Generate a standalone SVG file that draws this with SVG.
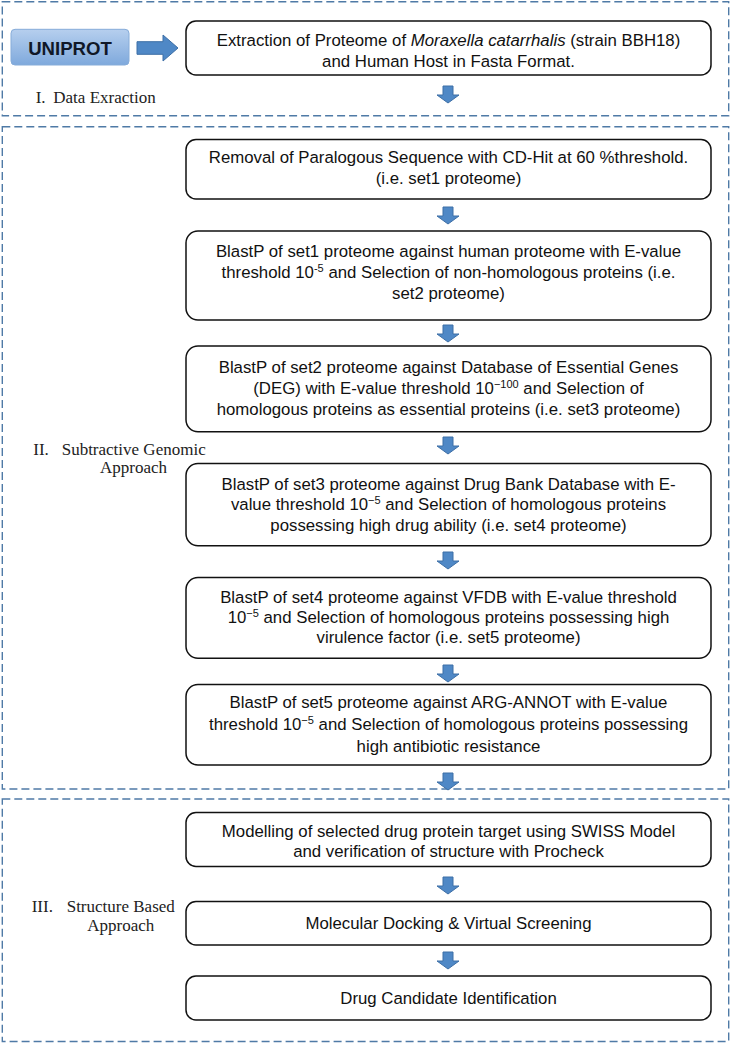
<svg xmlns="http://www.w3.org/2000/svg" width="731" height="1044" viewBox="0 0 731 1044">
<defs>
<style>
.sec{fill:none;stroke:#4f7aa6;stroke-width:1.4;stroke-dasharray:8 4}
.box{fill:#fff;stroke:#111;stroke-width:1.5}
.t{font-family:"Liberation Sans",Arial,sans-serif;font-size:16.8px;fill:#111;text-anchor:middle}
.lab{font-family:"Liberation Serif","Times New Roman",serif;font-size:17px;fill:#222}
.sup{font-size:11px}
.arr{fill:#4f88c6;stroke:#3d6fa6;stroke-width:1}
</style>
<linearGradient id="ug" x1="0" y1="0" x2="0" y2="1">
<stop offset="0" stop-color="#b6cfee"/>
<stop offset="1" stop-color="#7fa9dc"/>
</linearGradient>
</defs>
<rect width="731" height="1044" fill="#fff"/>
<g id="sections">
<rect class="sec" x="2.3" y="1.7" width="726.4" height="114"/>
<rect class="sec" x="2.3" y="126.7" width="726.4" height="662.3"/>
<rect class="sec" x="2.3" y="799" width="726.4" height="242.5"/>
</g>
<g id="labels">
<text class="lab" y="102.7"><tspan x="35.7">I.</tspan><tspan x="53.3">Data Exraction</tspan></text>
<text class="lab" y="455"><tspan x="33.3">II.</tspan><tspan x="61.7">Subtractive Genomic</tspan></text>
<text class="lab" x="100" y="473.3">Approach</text>
<text class="lab" y="911.7"><tspan x="31.7">III.</tspan><tspan x="66.7">Structure Based</tspan></text>
<text class="lab" x="87.3" y="930.7">Approach</text>
</g>
<g id="uniprot">
<rect x="11" y="29.3" width="118" height="35.7" rx="4" fill="url(#ug)" stroke="#86acd9" stroke-width="1"/>
<text x="70" y="55" font-family="'Liberation Sans',Arial,sans-serif" font-size="18.6" font-weight="bold" fill="#101828" text-anchor="middle">UNIPROT</text>
</g>
<g id="n0">
<rect class="box" x="186" y="21" width="525" height="54" rx="10"/>
<text class="t" x="448.5" y="45.7">Extraction of Proteome of <tspan font-style="italic">Moraxella catarrhalis</tspan> (strain BBH18)</text>
<text class="t" x="448.5" y="66.7">and Human Host in Fasta Format.</text>
</g>
<g id="n1">
<rect class="box" x="186" y="139.5" width="525" height="59.5" rx="10"/>
<text class="t" x="448.5" y="163.3">Removal of Paralogous Sequence with CD-Hit at 60 %threshold.</text>
<text class="t" x="448.5" y="184.3">(i.e. set1 proteome)</text>
</g>
<g id="n2">
<rect class="box" x="186" y="231" width="525" height="89" rx="12"/>
<text class="t" x="448.5" y="257.3">BlastP of set1 proteome against human proteome with E-value</text>
<text class="t" x="448.5" y="278.3">threshold 10<tspan class="sup" dy="-6">-5</tspan><tspan dy="6"> and Selection of non-homologous proteins (i.e.</tspan></text>
<text class="t" x="448.5" y="299.3">set2 proteome)</text>
</g>
<g id="n3">
<rect class="box" x="186" y="346" width="525" height="85.7" rx="12"/>
<text class="t" x="448.5" y="372.7">BlastP of set2 proteome against Database of Essential Genes</text>
<text class="t" x="448.5" y="394">(DEG) with E-value threshold 10<tspan class="sup" dy="-6">−100</tspan><tspan dy="6"> and Selection of</tspan></text>
<text class="t" x="448.5" y="415.2">homologous proteins as essential proteins (i.e. set3 proteome)</text>
</g>
<g id="n4">
<rect class="box" x="186" y="463.5" width="525" height="82.2" rx="12"/>
<text class="t" x="448.5" y="489.5">BlastP of set3 proteome against Drug Bank Database with E-</text>
<text class="t" x="448.5" y="510">value threshold 10<tspan class="sup" dy="-6">−5</tspan><tspan dy="6"> and Selection of homologous proteins</tspan></text>
<text class="t" x="448.5" y="530.5">possessing high drug ability (i.e. set4 proteome)</text>
</g>
<g id="n5">
<rect class="box" x="186" y="577.5" width="525" height="80.8" rx="12"/>
<text class="t" x="448.5" y="603.3">BlastP of set4 proteome against VFDB with E-value threshold</text>
<text class="t" x="448.5" y="623.3">10<tspan class="sup" dy="-6">−5</tspan><tspan dy="6"> and Selection of homologous proteins possessing high</tspan></text>
<text class="t" x="448.5" y="643.3">virulence factor (i.e. set5 proteome)</text>
</g>
<g id="n6">
<rect class="box" x="186" y="684.5" width="525" height="80.5" rx="12"/>
<text class="t" x="448.5" y="708.3">BlastP of set5 proteome against ARG-ANNOT with E-value</text>
<text class="t" x="448.5" y="730">threshold 10<tspan class="sup" dy="-6">−5</tspan><tspan dy="6"> and Selection of homologous proteins possessing</tspan></text>
<text class="t" x="448.5" y="751.7">high antibiotic resistance</text>
</g>
<g id="n7">
<rect class="box" x="186" y="812.5" width="525" height="54" rx="10"/>
<text class="t" x="448.5" y="837.3">Modelling of selected drug protein target using SWISS Model</text>
<text class="t" x="448.5" y="857">and verification of structure with Procheck</text>
</g>
<g id="n8">
<rect class="box" x="186" y="901.5" width="525" height="43.5" rx="10"/>
<text class="t" x="448.5" y="929">Molecular Docking &amp; Virtual Screening</text>
</g>
<g id="n9">
<rect class="box" x="186" y="976" width="525" height="44" rx="10"/>
<text class="t" x="448.5" y="1004">Drug Candidate Identification</text>
</g>
<g id="connectors">
<path class="arr" d="M137,41.7 h26 v-6.7 l15,13 l-15,13 v-6.7 h-26 z"/>
<path class="arr" d="M443,86 h10 v9 h6 l-11,8 l-11,-8 h6 z"/>
<path class="arr" d="M443,207 h10 v9 h6 l-11,8 l-11,-8 h6 z"/>
<path class="arr" d="M443,325 h10 v9 h6 l-11,8 l-11,-8 h6 z"/>
<path class="arr" d="M443,437 h10 v9 h6 l-11,8 l-11,-8 h6 z"/>
<path class="arr" d="M443,552 h10 v9 h6 l-11,8 l-11,-8 h6 z"/>
<path class="arr" d="M443,665 h10 v9 h6 l-11,8 l-11,-8 h6 z"/>
<path class="arr" d="M443,773 h10 v9 h6 l-11,8 l-11,-8 h6 z"/>
<path class="arr" d="M443,877 h10 v9 h6 l-11,8 l-11,-8 h6 z"/>
<path class="arr" d="M443,952 h10 v9 h6 l-11,8 l-11,-8 h6 z"/>
</g>
</svg>
